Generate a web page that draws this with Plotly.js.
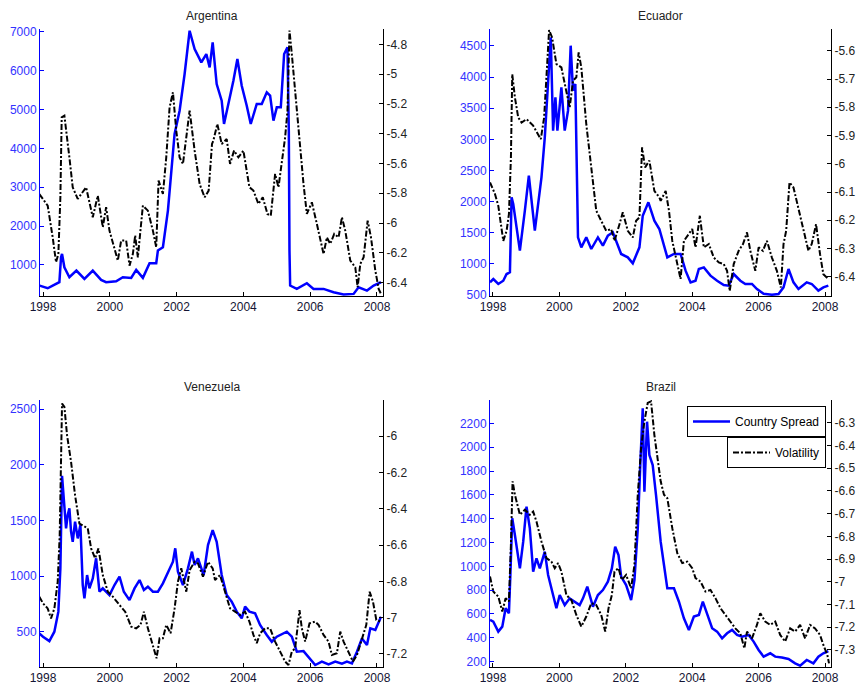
<!DOCTYPE html>
<html>
<head>
<meta charset="utf-8">
<script src="https://cdn.plot.ly/plotly-3.0.1.min.js"></script>
<style>html,body{margin:0;padding:0;background:#fff}#chart{width:859px;height:685px}</style>
</head>
<body>
<div id="chart"></div>
<script>
// ---------- Data ----------
const panelTitles = ["Argentina", "Ecuador", "Venezuela", "Brazil"];
const xTickVals = [1998, 2000, 2002, 2004, 2006, 2008];
const xTickText = ["1998", "2000", "2002", "2004", "2006", "2008"];

// Argentina
const argSpreadT = [1997.89,1998.00,1998.14,1998.29,1998.44,1998.49,1998.54,1998.57,1998.64,1998.79,
  1999.00,1999.24,1999.49,1999.74,1999.89,2000.19,2000.39,2000.64,2000.79,2000.99,
  2001.19,2001.39,2001.44,2001.59,2001.74,2001.84,2001.94,2002.09,2002.24,2002.39,
  2002.54,2002.74,2002.89,2002.99,2003.08,2003.20,2003.35,2003.42,2003.55,2003.70,
  2003.82,2003.95,2004.10,2004.22,2004.40,2004.55,2004.70,2004.80,2004.90,2005.00,
  2005.12,2005.22,2005.32,2005.36,2005.38,2005.40,2005.60,2005.90,2006.10,2006.40,
  2006.70,2007.00,2007.30,2007.45,2007.70,2007.90,2008.12];
const argSpread = [469,443,400,469,529,554,1197,1283,940,683,
  854,640,854,614,554,580,683,666,871,666,
  1043,1043,1369,1454,2397,3340,4368,4968,5911,7026,
  6554,6211,6426,6083,6726,5654,5226,4626,5140,5740,
  6297,5611,5097,4626,5140,5140,5440,5354,4711,5054,
  5054,6426,6597,4454,1369,469,383,529,383,383,
  297,237,254,426,340,469,554];
const argVolT = [1997.89,1998.00,1998.14,1998.29,1998.39,1998.46,1998.52,1998.56,1998.64,1998.79,
  1998.89,1999.04,1999.29,1999.49,1999.64,1999.79,1999.89,1999.99,2000.24,2000.34,
  2000.49,2000.59,2000.69,2000.76,2000.84,2000.99,2001.14,2001.29,2001.39,2001.46,
  2001.59,2001.69,2001.79,2001.89,2001.99,2002.09,2002.19,2002.29,2002.39,2002.54,
  2002.69,2002.84,2002.96,2003.06,2003.10,2003.22,2003.35,2003.50,2003.60,2003.72,
  2003.85,2004.00,2004.08,2004.18,2004.30,2004.45,2004.58,2004.72,2004.82,2004.95,
  2005.05,2005.15,2005.25,2005.32,2005.38,2005.45,2005.55,2005.65,2005.80,2005.90,
  2006.05,2006.20,2006.30,2006.40,2006.50,2006.60,2006.72,2006.85,2006.95,2007.05,
  2007.20,2007.35,2007.42,2007.50,2007.60,2007.72,2007.82,2007.95,2008.05,2008.12];
const argVol = [-5.805,-5.838,-5.883,-6.096,-6.263,-6.208,-5.827,-5.290,-5.279,-5.559,
  -5.760,-5.838,-5.760,-5.961,-5.816,-6.028,-5.894,-6.051,-6.252,-6.118,
  -6.118,-6.286,-6.208,-6.084,-6.230,-5.883,-5.917,-6.051,-6.163,-5.715,
  -5.805,-5.559,-5.223,-5.122,-5.380,-5.559,-5.603,-5.424,-5.245,-5.514,
  -5.738,-5.827,-5.782,-5.469,-5.447,-5.335,-5.469,-5.436,-5.603,-5.514,
  -5.559,-5.514,-5.626,-5.760,-5.782,-5.872,-5.827,-5.939,-5.950,-5.670,
  -5.760,-5.603,-5.424,-5.245,-4.708,-4.865,-5.111,-5.402,-5.738,-5.939,
  -5.861,-6.006,-6.118,-6.208,-6.096,-6.140,-6.073,-6.096,-5.961,-6.051,
  -6.252,-6.297,-6.431,-6.275,-6.230,-5.984,-6.096,-6.319,-6.442,-6.476];

// Ecuador
const ecuSpreadT = [1997.91,1998.01,1998.16,1998.31,1998.41,1998.51,1998.56,1998.61,1998.71,1998.81,
  1998.96,1999.08,1999.26,1999.46,1999.56,1999.66,1999.74,1999.81,1999.88,1999.94,
  2000.06,2000.16,2000.26,2000.34,2000.41,2000.48,2000.56,2000.66,2000.81,2000.96,
  2001.16,2001.31,2001.46,2001.61,2001.71,2001.86,2002.06,2002.21,2002.41,2002.51,
  2002.68,2002.86,2003.01,2003.10,2003.25,2003.45,2003.65,2003.80,2003.95,2004.10,
  2004.20,2004.35,2004.55,2004.75,2004.95,2005.10,2005.25,2005.45,2005.60,2005.80,
  2005.95,2006.15,2006.40,2006.60,2006.75,2006.90,2007.05,2007.20,2007.45,2007.60,
  2007.80,2007.95,2008.10];
const ecuSpread = [703,757,677,730,837,864,2069,1962,1587,1212,
  1855,2417,1534,2390,3033,3890,4639,3140,3676,3140,
  3836,3140,3461,4505,3783,3890,1426,1266,1426,1239,
  1426,1293,1453,1507,1373,1159,1105,1009,1266,1774,
  1989,1694,1560,1373,1105,1159,1159,891,703,730,
  918,944,811,730,661,650,837,730,677,677,
  596,520,505,515,623,918,703,596,703,677,
  570,623,650];
const ecuVolT = [1997.91,1998.06,1998.16,1998.31,1998.41,1998.48,1998.54,1998.58,1998.66,1998.76,
  1998.86,1999.01,1999.21,1999.36,1999.44,1999.54,1999.64,1999.69,1999.78,1999.91,
  2000.06,2000.21,2000.31,2000.41,2000.51,2000.58,2000.66,2000.81,2000.96,2001.11,
  2001.26,2001.41,2001.56,2001.66,2001.81,2001.91,2002.06,2002.21,2002.31,2002.41,
  2002.49,2002.58,2002.71,2002.86,2003.01,2003.05,2003.20,2003.30,2003.40,2003.55,
  2003.65,2003.75,2003.90,2004.00,2004.10,2004.23,2004.35,2004.50,2004.65,2004.80,
  2004.95,2005.05,2005.13,2005.25,2005.40,2005.53,2005.65,2005.75,2005.90,2006.00,
  2006.13,2006.25,2006.40,2006.55,2006.67,2006.75,2006.83,2006.93,2007.05,2007.20,
  2007.35,2007.50,2007.60,2007.73,2007.85,2007.95,2008.10];
const ecuVol = [-6.066,-6.107,-6.149,-6.273,-6.237,-6.178,-5.978,-5.683,-5.765,-5.836,
  -5.854,-5.842,-5.865,-5.895,-5.913,-5.836,-5.647,-5.527,-5.553,-5.647,
  -5.659,-5.742,-5.801,-5.706,-5.694,-5.606,-5.659,-5.860,-6.025,-6.166,
  -6.202,-6.237,-6.231,-6.273,-6.214,-6.172,-6.237,-6.261,-6.202,-6.190,
  -5.942,-6.013,-5.989,-6.096,-6.119,-6.131,-6.096,-6.166,-6.273,-6.355,
  -6.408,-6.273,-6.249,-6.231,-6.296,-6.184,-6.296,-6.284,-6.332,-6.349,
  -6.355,-6.379,-6.450,-6.355,-6.308,-6.284,-6.243,-6.308,-6.379,-6.296,
  -6.308,-6.273,-6.332,-6.379,-6.438,-6.284,-6.237,-6.066,-6.084,-6.155,
  -6.237,-6.308,-6.284,-6.214,-6.320,-6.391,-6.408];

// Venezuela
const venSpreadT = [1997.89,1998.00,1998.19,1998.34,1998.46,1998.52,1998.57,1998.62,1998.69,1998.74,
  1998.79,1998.84,1998.89,1998.96,1999.04,1999.12,1999.19,1999.24,1999.32,1999.39,
  1999.49,1999.59,1999.69,1999.79,1999.89,1999.99,2000.14,2000.29,2000.42,2000.59,
  2000.74,2000.89,2001.02,2001.14,2001.29,2001.44,2001.59,2001.76,2001.89,2001.96,
  2002.04,2002.19,2002.34,2002.46,2002.54,2002.64,2002.81,2002.94,2003.08,2003.20,
  2003.35,2003.50,2003.65,2003.80,2003.95,2004.05,2004.18,2004.35,2004.50,2004.70,
  2004.85,2005.00,2005.15,2005.30,2005.45,2005.60,2005.80,2005.95,2006.15,2006.35,
  2006.55,2006.75,2006.95,2007.10,2007.25,2007.40,2007.55,2007.70,2007.80,2007.95,
  2008.12];
const venSpread = [485,455,416,500,680,1069,1900,1728,1428,1548,
  1608,1398,1308,1488,1338,1458,919,799,1009,889,
  979,1159,859,889,859,829,919,994,859,784,
  889,964,874,904,859,859,934,1054,1129,1249,
  1039,919,1069,1219,1099,1159,1009,1278,1413,1308,
  1009,829,769,680,620,725,680,665,560,470,
  410,455,476,500,455,320,326,275,201,231,
  207,231,213,231,216,320,440,380,530,515,
  635];
const venVolT = [1997.89,1998.00,1998.14,1998.24,1998.34,1998.44,1998.50,1998.54,1998.57,1998.64,
  1998.72,1998.84,1998.96,1999.09,1999.24,1999.34,1999.44,1999.56,1999.66,1999.79,
  1999.94,2000.09,2000.29,2000.46,2000.64,2000.79,2000.92,2001.02,2001.14,2001.29,
  2001.40,2001.49,2001.59,2001.69,2001.82,2001.94,2002.04,2002.14,2002.29,2002.39,
  2002.54,2002.64,2002.79,2002.94,2003.08,2003.15,2003.30,2003.45,2003.60,2003.75,
  2003.90,2004.05,2004.18,2004.30,2004.40,2004.50,2004.65,2004.80,2004.95,2005.10,
  2005.25,2005.35,2005.45,2005.55,2005.62,2005.68,2005.75,2005.85,2005.98,2006.15,
  2006.25,2006.40,2006.55,2006.65,2006.80,2006.90,2007.00,2007.15,2007.28,2007.40,
  2007.55,2007.68,2007.78,2007.88,2007.98,2008.12];
const venVol = [-6.884,-6.921,-6.949,-7.004,-6.949,-6.802,-6.545,-6.050,-5.820,-5.838,
  -5.994,-6.141,-6.325,-6.481,-6.499,-6.508,-6.618,-6.673,-6.618,-6.765,
  -6.857,-6.884,-6.930,-6.967,-7.050,-7.059,-7.040,-6.967,-7.059,-7.150,
  -7.224,-7.114,-7.114,-7.040,-7.086,-6.949,-6.802,-6.728,-6.857,-6.738,
  -6.692,-6.701,-6.774,-6.692,-6.728,-6.793,-6.765,-6.857,-6.949,-6.967,
  -6.985,-6.967,-7.022,-7.095,-7.141,-7.086,-7.059,-7.059,-7.132,-7.187,
  -7.242,-7.261,-7.187,-7.169,-7.059,-6.958,-7.059,-7.132,-7.031,-7.022,
  -7.040,-7.095,-7.132,-7.206,-7.196,-7.077,-7.132,-7.187,-7.242,-7.206,
  -7.114,-7.040,-6.857,-6.912,-7.013,-7.022];

// Brazil
const braSpreadT = [1997.91,1998.01,1998.16,1998.28,1998.38,1998.48,1998.52,1998.58,1998.66,1998.81,
  1998.91,1999.01,1999.11,1999.21,1999.31,1999.41,1999.56,1999.66,1999.81,1999.91,
  2000.01,2000.16,2000.31,2000.46,2000.61,2000.71,2000.84,2001.01,2001.16,2001.31,
  2001.46,2001.58,2001.68,2001.78,2001.86,2002.01,2002.16,2002.26,2002.36,2002.44,
  2002.51,2002.56,2002.64,2002.71,2002.81,2002.91,2002.96,2003.05,2003.15,2003.25,
  2003.45,2003.60,2003.75,2003.90,2004.05,2004.20,2004.32,2004.45,2004.60,2004.75,
  2004.90,2005.05,2005.20,2005.35,2005.50,2005.70,2005.85,2006.00,2006.15,2006.35,
  2006.50,2006.70,2006.90,2007.10,2007.25,2007.45,2007.65,2007.80,2007.95,2008.10];
const braSpread = [550,536,452,494,648,606,900,1403,1263,983,
  1207,1501,1319,955,1067,983,1123,927,759,648,
  759,675,731,703,675,731,829,661,759,801,
  871,983,1165,1095,913,843,717,885,1319,1878,
  2326,1626,2214,1934,1850,1598,1470,1207,1011,815,
  815,703,564,466,578,592,703,592,480,452,
  396,438,466,424,410,424,368,298,242,270,
  242,234,222,186,166,214,186,242,270,289];
const braVolT = [1997.91,1998.01,1998.16,1998.28,1998.38,1998.48,1998.54,1998.59,1998.66,1998.81,
  1998.96,1999.11,1999.21,1999.31,1999.46,1999.61,1999.76,1999.86,1999.96,2000.06,
  2000.21,2000.36,2000.51,2000.66,2000.81,2000.96,2001.11,2001.26,2001.38,2001.48,
  2001.58,2001.66,2001.78,2001.88,2002.01,2002.16,2002.26,2002.36,2002.46,2002.56,
  2002.66,2002.76,2002.86,2002.96,2003.05,2003.15,2003.25,2003.40,2003.55,2003.70,
  2003.85,2004.00,2004.10,2004.25,2004.40,2004.55,2004.70,2004.85,2005.00,2005.15,
  2005.30,2005.45,2005.57,2005.65,2005.80,2005.95,2006.05,2006.20,2006.35,2006.50,
  2006.65,2006.80,2006.95,2007.10,2007.25,2007.40,2007.55,2007.70,2007.85,2007.95,
  2008.07,2008.12];
const braVol = [-6.977,-7.043,-7.065,-7.131,-7.072,-7.087,-6.837,-6.558,-6.617,-6.705,
  -6.683,-6.705,-6.691,-6.735,-6.823,-6.896,-6.911,-6.940,-6.918,-6.955,
  -7.058,-7.080,-7.146,-7.197,-7.153,-7.094,-7.102,-7.146,-7.219,-7.116,
  -7.058,-6.955,-6.940,-6.992,-6.970,-7.028,-6.926,-6.617,-6.412,-6.294,
  -6.213,-6.206,-6.353,-6.450,-6.558,-6.617,-6.632,-6.764,-6.874,-6.918,
  -6.911,-6.940,-6.984,-6.999,-7.043,-7.036,-7.072,-7.116,-7.146,-7.175,
  -7.205,-7.227,-7.293,-7.219,-7.249,-7.190,-7.138,-7.175,-7.190,-7.175,
  -7.234,-7.263,-7.205,-7.219,-7.190,-7.249,-7.190,-7.205,-7.234,-7.278,
  -7.322,-7.359];

// Axis ticks
const argLeftTicks = [1000,2000,3000,4000,5000,6000,7000];
const argRightTicks = [-6.4,-6.2,-6,-5.8,-5.6,-5.4,-5.2,-5,-4.8];
const ecuLeftTicks = [500,1000,1500,2000,2500,3000,3500,4000,4500];
const ecuRightTicks = [-6.4,-6.3,-6.2,-6.1,-6,-5.9,-5.8,-5.7,-5.6];
const venLeftTicks = [500,1000,1500,2000,2500];
const venRightTicks = [-7.2,-7,-6.8,-6.6,-6.4,-6.2,-6];
const braLeftTicks = [200,400,600,800,1000,1200,1400,1600,1800,2000,2200];
const braRightTicks = [-7.3,-7.2,-7.1,-7,-6.9,-6.8,-6.7,-6.6,-6.5,-6.4,-6.3];

const legendNames = ["Country Spread", "Volatility"];

// ---------- Layout geometry ----------
const W = 859, H = 685;
const FONT = "Arial, 'Liberation Sans', Helvetica, sans-serif";
const BLUE = "#0000ff";
const panels = [
  {t: argSpreadT, s: argSpread, vt: argVolT, v: argVol, L: argLeftTicks, R: argRightTicks,
   lr: [200, 7070], rr: [-6.49, -4.697], px: [40, 383], py: [29, 296]},
  {t: ecuSpreadT, s: ecuSpread, vt: ecuVolT, v: ecuVol, L: ecuLeftTicks, R: ecuRightTicks,
   lr: [484, 4773], rr: [-6.468, -5.523], px: [490, 831], py: [29, 296]},
  {t: venSpreadT, s: venSpread, vt: venVolT, v: venVol, L: venLeftTicks, R: venRightTicks,
   lr: [183, 2581], rr: [-7.272, -5.80], px: [40, 383], py: [400, 667]},
  {t: braSpreadT, s: braSpread, vt: braVolT, v: braVol, L: braLeftTicks, R: braRightTicks,
   lr: [155, 2396], rr: [-7.375, -6.2], px: [490, 831], py: [400, 667]}
];

const traces = [];
const layout = {
  width: W, height: H,
  margin: {l: 0, r: 0, t: 0, b: 0},
  paper_bgcolor: "#ffffff", plot_bgcolor: "#ffffff",
  font: {family: FONT, size: 12, color: "#000"},
  showlegend: true,
  annotations: [],
  legend: {
    x: 826 / W, xanchor: "right", y: 1 - 406 / H, yanchor: "top",
    bgcolor: "#fff", bordercolor: "#000", borderwidth: 1,
    font: {family: FONT, size: 12, color: "#000"},
    itemwidth: 37, tracegroupgap: 0
  },
  legend2: {
    x: 826 / W, xanchor: "right", y: 1 - 437 / H, yanchor: "top",
    bgcolor: "#fff", bordercolor: "#000", borderwidth: 1,
    font: {family: FONT, size: 12, color: "#000"},
    itemwidth: 37, tracegroupgap: 0
  }
};

panels.forEach((p, i) => {
  const xn = i === 0 ? "" : String(i + 1);
  const yl = 2 * i + 1, yr = 2 * i + 2;
  const yln = yl === 1 ? "" : String(yl);
  const yrn = String(yr);
  const isBrazil = i === 3;
  traces.push({
    x: p.t, y: p.s, type: "scatter", mode: "lines",
    xaxis: "x" + xn, yaxis: "y" + yln,
    line: {color: BLUE, width: 2.5},
    name: legendNames[0], showlegend: isBrazil, legend: "legend"
  });
  traces.push({
    x: p.vt, y: p.v, type: "scatter", mode: "lines",
    xaxis: "x" + xn, yaxis: "y" + yrn,
    line: {color: "#000", width: 2, dash: "6px,2px,2px,2px"},
    name: legendNames[1], showlegend: isBrazil, legend: "legend2"
  });
  const xdom = [p.px[0] / W, p.px[1] / W];
  const ydom = [1 - p.py[1] / H, 1 - p.py[0] / H];
  layout["xaxis" + xn] = {
    domain: xdom, range: [1997.91, 2008.18], anchor: "y" + yln,
    tickvals: xTickVals, ticktext: xTickText,
    ticks: "inside", ticklen: 4, tickcolor: "#000",
    showline: true, linecolor: "#000", linewidth: 1,
    showgrid: false, zeroline: false,
    tickfont: {family: FONT, size: 12, color: "#141433"}
  };
  layout["yaxis" + yln] = {
    domain: ydom, range: p.lr, anchor: "x" + xn,
    tickvals: p.L, ticktext: p.L.map(String),
    ticks: "inside", ticklen: 4, tickcolor: BLUE,
    showline: true, linecolor: BLUE, linewidth: 1,
    showgrid: false, zeroline: false,
    tickfont: {family: FONT, size: 12, color: "#3333ff"}
  };
  layout["yaxis" + yrn] = {
    overlaying: "y" + yln, side: "right", anchor: "x" + xn, range: p.rr,
    tickvals: p.R, ticktext: p.R.map(String),
    ticks: "inside", ticklen: 4, tickcolor: "#000",
    showline: true, linecolor: "#000", linewidth: 1,
    showgrid: false, zeroline: false,
    tickfont: {family: FONT, size: 12, color: "#222"}
  };
  layout.annotations.push({
    text: panelTitles[i], xref: "paper", yref: "paper",
    x: (xdom[0] + xdom[1]) / 2, y: 1 - (p.py[0] - 13) / H,
    xanchor: "center", yanchor: "middle", showarrow: false,
    font: {family: FONT, size: 12, color: "#222"}
  });
});

Plotly.newPlot("chart", traces, layout, {staticPlot: true, displayModeBar: false});
</script>
</body>
</html>
